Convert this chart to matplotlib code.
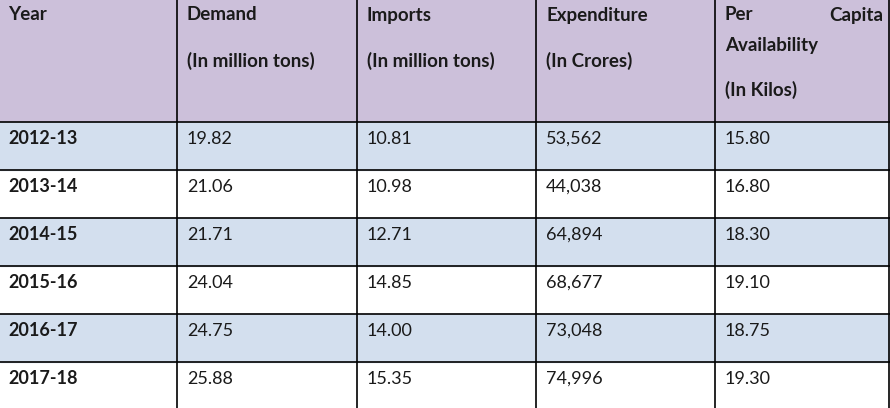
import matplotlib.pyplot as plt
from matplotlib.patches import Rectangle

# Datos de la tabla
years = ["2012-13", "2013-14", "2014-15", "2015-16", "2016-17", "2017-18"]
demand = ["19.82", "21.06", "21.71", "24.04", "24.75", "25.88"]
imports = ["10.81", "10.98", "12.71", "14.85", "14.00", "15.35"]
expenditure = ["53,562", "44,038", "64,894", "68,677", "73,048", "74,996"]
per_capita = ["15.80", "16.80", "18.30", "19.10", "18.75", "19.30"]

headers = ["Year", "Demand", "Imports", "Expenditure", "Per Capita"]
subheaders = ["", "(In million tons)", "(In million tons)", "(In Crores)", ""]

# Geometria en pixeles
col_edges = [0, 177, 357, 536, 715, 890]
header_h = 122
row_h = 48
W, H = 890, 408

plt.rcParams["font.family"] = ["Lato", "DejaVu Sans"]
fig = plt.figure(figsize=(W / 100, H / 100), dpi=100)
ax = fig.add_axes([0, 0, 1, 1])
ax.set_xlim(0, W)
ax.set_ylim(H, 0)
ax.axis("off")

header_color = "#CCC0DA"
stripe_color = "#D3DFEE"
fs = 13
fs_h = 13.5
txt = "#1a1a1a"

# Fondo de cabecera
ax.add_patch(Rectangle((0, 0), W, header_h, color=header_color, zorder=0))

# Filas
columns = [years, demand, imports, expenditure, per_capita]
for i in range(len(years)):
    y0 = header_h + i * row_h
    if i % 2 == 0:
        ax.add_patch(Rectangle((0, y0), W, row_h, color=stripe_color, zorder=0))
    for j, col in enumerate(columns):
        ax.text(col_edges[j] + (8 if j == 0 else 10), y0 + 17, col[i], fontsize=fs,
                va="center", ha="left", color=txt,
                fontweight="bold" if j == 0 else "normal")

# Lineas
for k in range(len(years)):
    y = header_h + k * row_h
    ax.plot([0, W], [y, y], color="black", lw=1.2)
for x in col_edges[1:-1]:
    ax.plot([x, x], [0, H], color="black", lw=1.2)
ax.plot([W - 1, W - 1], [0, H], color="black", lw=1.2)

# Cabecera
for j, h in enumerate(headers[:4]):
    xoff = 8 if j == 0 else 10
    ax.text(col_edges[j] + xoff, 15, h, fontsize=fs_h, fontweight="bold",
            va="center", ha="left", color=txt)
    if subheaders[j]:
        ax.text(col_edges[j] + xoff, 61, subheaders[j], fontsize=fs_h,
                fontweight="bold", va="center", ha="left", color=txt)

# Ultima columna justificada
x0 = col_edges[4] + 10
ax.text(x0, 15, "Per", fontsize=fs_h, fontweight="bold", va="center", ha="left", color=txt)
ax.text(W - 7, 15, "Capita", fontsize=fs_h, fontweight="bold", va="center", ha="right", color=txt)
ax.text(x0, 45, "Availability", fontsize=fs_h, fontweight="bold", va="center", ha="left", color=txt)
ax.text(x0, 90, "(In Kilos)", fontsize=fs_h, fontweight="bold", va="center", ha="left", color=txt)

fig.savefig("out.png", dpi=100)
plt.close(fig)
